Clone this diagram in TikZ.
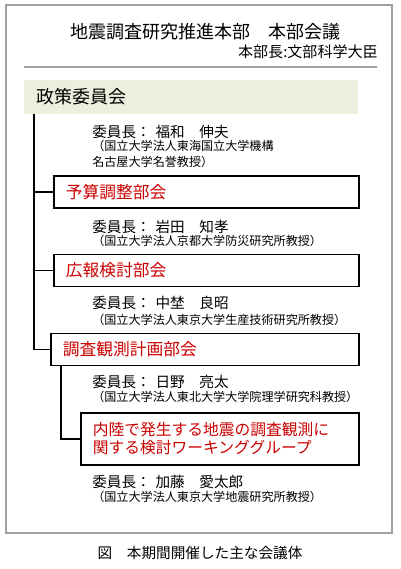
\documentclass[tikz,border=0pt]{standalone}
\usepackage{fontspec}
\setmainfont{Noto Sans CJK JP}
\usetikzlibrary{positioning}
\definecolor{framegray}{RGB}{160,160,160}
\definecolor{policyfill}{RGB}{236,239,221}
\definecolor{titlered}{RGB}{204,0,0}

\begin{document}
\begin{tikzpicture}[x=0.025cm, y=-0.025cm,
  every node/.style={inner sep=0pt},
  headline/.style={font=\fontsize{12.8pt}{15pt}\selectfont},
  chairline/.style={anchor=west, font=\fontsize{10.4pt}{12pt}\selectfont},
  orgline/.style={anchor=west, align=left, font=\fontsize{8.6pt}{11.4pt}\selectfont},
  groupbox/.style={draw, line width=1.3pt, anchor=west, align=left, inner xsep=0.3cm, minimum height=0.8cm, text=titlered, font=\fontsize{11.9pt}{12.8pt}\selectfont},
  link/.style={line width=1.3pt}]
  \useasboundingbox (0,0) rectangle (400,569);

  % outer frame and heading
  \draw[framegray, line width=1.4pt] (6,5) rectangle (392,533);
  \node[headline] (title) at (205,32) {地震調査研究推進本部　本部会議};
  \node[anchor=east, font=\fontsize{10.7pt}{12pt}\selectfont] (chief) at (378,52) {本部長:文部科学大臣};
  \draw[framegray, line width=1.2pt] (24,67) -- (377,67);

  % committees
  \node[headline, fill=policyfill, anchor=west, minimum height=0.85cm, text width=7.75cm, inner xsep=0.3cm, align=left] (policy) at (24,97) {政策委員会};
  \node[chairline] (policyhead) at (92,132) {委員長：\hspace{0.12cm}福和　伸夫};
  \node[orgline] (policyorg) at (92,154) {（国立大学法人東海国立大学機構\\名古屋大学名誉教授）};

  \node[groupbox, text width=7.025cm] (budget) at (53,192) {予算調整部会};
  \node[chairline] (budgethead) at (92,227) {委員長：\hspace{0.12cm}岩田　知孝};
  \node[orgline] (budgetorg) at (92,241) {（国立大学法人京都大学防災研究所教授）};

  \node[groupbox, text width=7.025cm] (public) at (53,270.5) {広報検討部会};
  \node[chairline] (publichead) at (92,303) {委員長：\hspace{0.12cm}中埜　良昭};
  \node[orgline] (publicorg) at (92,320) {（国立大学法人東京大学生産技術研究所教授）};

  \node[groupbox, text width=7.1cm] (survey) at (50,349.5) {調査観測計画部会};
  \node[chairline] (surveyhead) at (92,382) {委員長：\hspace{0.12cm}日野　亮太};
  \node[orgline] (surveyorg) at (92,397) {（国立大学法人東北大学大学院理学研究科教授）};

  \node[groupbox, text width=6.35cm, minimum height=1.3cm, font=\fontsize{11.2pt}{12.8pt}\selectfont] (wg) at (80,439) {内陸で発生する地震の調査観測に\\関する検討ワーキンググループ};
  \node[chairline] (wghead) at (92,482) {委員長：\hspace{0.12cm}加藤　愛太郎};
  \node[orgline] (wgorg) at (92,497) {（国立大学法人東京大学地震研究所教授）};

  % connectors
  \coordinate (trunk) at ([xshift=0.25cm]policy.south west);
  \draw[link] (trunk) |- (survey.west);
  \draw[link] (trunk |- budget.west) -- (budget.west);
  \draw[link] (trunk |- public.west) -- (public.west);
  \coordinate (branch) at ([xshift=0.275cm]survey.south west);
  \draw[link] (branch) |- (wg.west);

  \node[font=\fontsize{10.4pt}{12pt}\selectfont] (caption) at (200,553) {図　本期間開催した主な会議体};
\end{tikzpicture}
\end{document}
